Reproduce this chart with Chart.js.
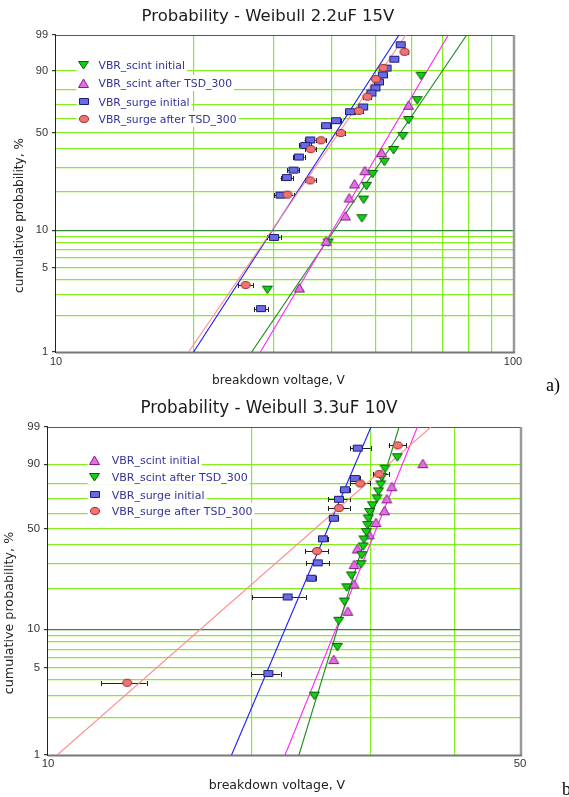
<!DOCTYPE html>
<html>
<head>
<meta charset="utf-8">
<script src="https://cdn.jsdelivr.net/npm/chart.js@4.4.1/dist/chart.umd.min.js"></script>
<style>
  html, body { margin: 0; padding: 0; background: #fff; }
  #wrapA { position: absolute; left: 0; top: 0; }
  #wrapB { position: absolute; left: 0; top: 395px; }
  canvas { display: block; }
</style>
</head>
<body>
<div id="wrapA"><canvas id="chartA" width="569" height="395"></canvas></div>
<div id="wrapB"><canvas id="chartB" width="569" height="402"></canvas></div>
<script>
// weibull probability axis: percentages on the ln(-ln(1-F)) scale
const yGridPct = [1, 2, 3, 4, 5, 6, 7, 8, 9, 10, 20, 30, 40, 50, 60, 70, 80, 90, 99];
const yLabelPct = [1, 5, 10, 50, 90, 99];
const fitPct = [1, 99];
const xGridA = [10, 20, 30, 40, 50, 60, 70, 80, 90, 100];
const xGridB = [10, 20, 30, 40, 50];

// a) 2.2uF 15V
const a_scintInitV = [62.9, 61.7, 59.1, 57.4, 54.8, 52.3, 49.3, 47.8, 47.1, 46.7, 39.4, 29.0];
const a_scintInitP = [87.7, 73.0, 59.0, 48.0, 39.3, 32.8, 27.0, 22.1, 17.4, 12.5, 8.0, 3.3];
const a_scintTsdV = [59.1, 51.6, 47.4, 45.0, 43.8, 43.0, 39.0, 34.1];
const a_scintTsdP = [69.4, 37.7, 28.4, 22.8, 17.9, 13.0, 8.2, 3.4];
const a_surgeInitV = [56.8, 55.0, 52.9, 51.9, 50.9, 50.0, 49.0, 47.0, 44.0, 41.0, 39.0, 36.0, 35.1, 34.0, 33.1, 32.0, 31.0, 30.0, 28.1];
const a_surgeInitP = [97.8, 94.4, 91.2, 88.1, 84.4, 80.9, 77.7, 68.2, 64.9, 58.5, 55.0, 45.4, 42.0, 35.3, 28.7, 25.4, 18.8, 8.8, 2.3];
const a_surgeInitErr = [1, 1, 1, 1, 1, 1, 1, 1, 1, 1, 1, 1, 1, 1, 1, 1, 1, 1, 1];
const a_surgeTsdV = [57.9, 52.0, 50.1, 48.0, 46.0, 42.0, 38.0, 36.1, 36.0, 32.1, 26.0];
const a_surgeTsdP = [96.4, 91.3, 86.0, 75.3, 65.4, 50.0, 45.2, 39.8, 24.2, 19.0, 3.6];
const a_surgeTsdErr = [1, 1, 1, 1, 1, 1, 1, 1, 1, 1, 1];
// fitted lines: voltage at 1% and at 99%
const a_fitScintInit = [26.8, 79.2];
const a_fitScintTsd = [28.0, 72.2];
const a_fitSurgeInit = [20.0, 56.3];
const a_fitSurgeTsd = [19.5, 58.3];

// b) 3.3uF 10V
const b_scintInitV = [35.9, 32.3, 31.75, 31.5, 30.6, 29.9, 28.7, 28.4, 28.4, 27.8, 26.5];
const b_scintInitP = [90.2, 77.9, 70.0, 61.8, 53.8, 45.9, 37.6, 29.7, 21.7, 13.7, 5.8];
const b_scintTsdV = [32.9, 31.55, 31.2, 31.1, 30.86, 30.7, 30.23, 29.93, 29.8, 29.75, 29.6, 29.36, 29.28, 29.16, 29.08, 28.14, 27.69, 27.47, 26.95, 26.82, 24.8];
const b_scintTsdP = [92.7, 88.0, 83.6, 79.3, 74.9, 70.3, 65.6, 61.0, 56.6, 52.2, 47.6, 43.1, 39.0, 34.3, 29.9, 25.0, 20.6, 16.2, 11.6, 7.3, 3.0];
const b_surgeInitV = [28.75, 28.47, 27.53, 26.97, 26.5, 25.54, 25.09, 24.55, 22.64, 21.2];
const b_surgeInitP = [95.5, 82.8, 76.0, 69.7, 56.7, 43.5, 30.5, 23.9, 17.5, 4.5];
const b_surgeInitErrLo = [0.75, 0.5, 0.5, 1.0, 0.4, 0.4, 1.0, 0.4, 2.6, 1.2];
const b_surgeInitErrHi = [1.3, 0.5, 0.5, 1.0, 0.4, 0.4, 1.0, 0.4, 1.45, 0.9];
const b_surgeTsdV = [32.95, 30.94, 29.0, 26.97, 25.02, 13.1];
const b_surgeTsdP = [96.2, 85.2, 79.9, 63.7, 36.5, 3.8];
const b_surgeTsdErrLo = [1.0, 0.6, 1.0, 1.0, 1.0, 1.1];
const b_surgeTsdErrHi = [1.0, 1.0, 1.0, 1.0, 1.0, 0.9];
const b_fitScintInit = [22.44, 35.24];
const b_fitScintTsd = [23.53, 33.1];
const b_fitSurgeInit = [18.7, 30.08];
const b_fitSurgeTsd = [10.32, 36.9];

const W = p => Math.log(-Math.log(1 - p / 100));
const toPct = w => 100 * (1 - Math.exp(-Math.exp(w)));

const GRID = '#86ee1e';
const GRID10 = '#2f8a3a';
const LEGEND_TXT = '#333399';

function marker(kind, w, h, fill, stroke) {
  const c = document.createElement('canvas');
  c.width = w + 2; c.height = h + 2;
  const g = c.getContext('2d');
  g.fillStyle = fill; g.strokeStyle = stroke; g.lineWidth = 1;
  g.beginPath();
  if (kind === 'rect') g.rect(1.5, 1.5, w - 1, h - 1);
  else if (kind === 'ellipse') g.ellipse((w + 2) / 2, (h + 2) / 2, w / 2 - 0.5, h / 2 - 0.5, 0, 0, Math.PI * 2);
  else if (kind === 'up') { g.moveTo((w + 2) / 2, 1); g.lineTo(w + 0.5, h + 0.5); g.lineTo(1.5, h + 0.5); g.closePath(); }
  else { g.moveTo(1.5, 1.5); g.lineTo(w + 0.5, 1.5); g.lineTo((w + 2) / 2, h + 1); g.closePath(); }
  g.fill(); g.stroke();
  return c;
}

const mkGreen = marker('down', 11, 8, '#10d010', '#0b5e0b');
const mkMagenta = marker('up', 11, 9, '#e070e0', '#8a1a8a');
const mkBlue = marker('rect', 10, 7, '#6a6ae4', '#1c1c7a');
const mkRed = marker('ellipse', 10, 8, '#f07474', '#9a2e2e');

function build(id, o) {
  const datasets = [];
  o.series.forEach(s => {
    datasets.push({
      label: s.label,
      data: s.v.map((v, i) => ({ x: v, y: W(s.p[i]) })),
      pointStyle: s.marker, pointRadius: 5, showLine: false, order: 0,
      errLo: s.errLo, errHi: s.errHi
    });
  });
  o.fits.forEach(f => {
    datasets.push({
      data: f.v.map((v, i) => ({ x: v, y: W(fitPct[i]) })),
      showLine: true, borderColor: f.color, borderWidth: 1.1, pointRadius: 0, order: 1
    });
  });

  const deco = {
    id: 'deco',
    beforeDatasetsDraw(chart) {
      const c = chart.ctx, a = chart.chartArea, xs = chart.scales.x, ys = chart.scales.y;
      c.save();
      // frame
      const seg = (x1, y1, x2, y2, col, lw) => {
        c.strokeStyle = col; c.lineWidth = lw;
        c.beginPath(); c.moveTo(x1, y1); c.lineTo(x2, y2); c.stroke();
      };
      seg(a.left, a.top + 0.5, a.right, a.top + 0.5, '#555', 1);
      seg(a.right + 1, a.top, a.right + 1, a.bottom + 1, '#9a9a9a', 2.5);
      seg(a.left, a.bottom + 0.5, a.right + 2, a.bottom + 0.5, '#777', 2);
      seg(a.left - 0.5, a.top, a.left - 0.5, a.bottom + 1, '#222', 1);

      // legend
      c.font = o.legend.font;
      c.textAlign = 'left'; c.textBaseline = 'alphabetic';
      o.legend.items.forEach((it, i) => {
        const y = o.legend.rows[i];
        const tw = c.measureText(it.label).width;
        c.fillStyle = '#fff';
        c.fillRect(o.legend.mx - 7, y - 8, o.legend.tx + tw + 2 - (o.legend.mx - 7), 16);
        c.drawImage(it.marker, Math.round(o.legend.mx - it.marker.width / 2), Math.round(y - it.marker.height / 2));
        c.fillStyle = LEGEND_TXT;
        c.fillText(it.label, o.legend.tx, y + 4);
      });

      // horizontal error bars
      c.strokeStyle = '#222'; c.lineWidth = 1;
      chart.data.datasets.forEach(d => {
        if (!d.errLo) return;
        d.data.forEach((pt, i) => {
          const x1 = xs.getPixelForValue(pt.x - d.errLo[i]);
          const x2 = xs.getPixelForValue(pt.x + d.errHi[i]);
          const y = Math.round(ys.getPixelForValue(pt.y)) + 0.5;
          c.beginPath();
          c.moveTo(x1, y); c.lineTo(x2, y);
          c.moveTo(Math.round(x1) + 0.5, y - 2.5); c.lineTo(Math.round(x1) + 0.5, y + 2.5);
          c.moveTo(Math.round(x2) + 0.5, y - 2.5); c.lineTo(Math.round(x2) + 0.5, y + 2.5);
          c.stroke();
        });
      });
      c.restore();
    },
    afterDraw(chart) {
      const c = chart.ctx;
      c.save();
      o.texts.forEach(t => {
        c.font = t.font;
        c.fillStyle = t.color || '#222';
        c.textBaseline = 'alphabetic';
        c.textAlign = t.align || 'center';
        if (t.rot) {
          c.save(); c.translate(t.x, t.y); c.rotate(-Math.PI / 2);
          c.fillText(t.t, 0, 0); c.restore();
        } else {
          c.fillText(t.t, t.x, t.y);
        }
      });
      c.restore();
    }
  };

  const xMax = o.xGrid[o.xGrid.length - 1];
  return new Chart(document.getElementById(id), {
    type: 'scatter',
    data: { datasets },
    options: {
      responsive: false,
      animation: false,
      events: [],
      layout: { padding: { left: 0, right: o.padRight, top: o.padTop, bottom: 0 } },
      plugins: { legend: { display: false }, tooltip: { enabled: false }, title: { display: false } },
      scales: {
        x: {
          type: 'logarithmic', min: 10, max: xMax,
          border: { display: false },
          afterBuildTicks: s => { s.ticks = o.xGrid.map(v => ({ value: v })); },
          grid: {
            color: ctx => (ctx.tick.value === 10 || ctx.tick.value === xMax) ? 'rgba(0,0,0,0)' : GRID,
            lineWidth: 1.2, drawTicks: false
          },
          ticks: {
            autoSkip: false, maxRotation: 0, padding: o.xPad, color: '#333',
            font: { family: 'Liberation Sans', size: o.tickSize },
            callback: v => (v === 10 || v === xMax) ? String(v) : ''
          },
          afterFit: s => { s.height = o.xH; }
        },
        y: {
          type: 'linear', min: W(1), max: W(99),
          border: { display: false },
          afterBuildTicks: s => { s.ticks = yGridPct.map(p => ({ value: W(p) })); },
          grid: {
            color: ctx => {
              const p = Math.round(toPct(ctx.tick.value));
              if (p === 1 || p === 99) return 'rgba(0,0,0,0)';
              return p === 10 ? GRID10 : GRID;
            },
            tickColor: ctx => yLabelPct.includes(Math.round(toPct(ctx.tick.value))) ? '#333' : 'rgba(0,0,0,0)',
            lineWidth: 1.2, drawTicks: true, tickLength: 4
          },
          ticks: {
            autoSkip: false, padding: 4, color: '#333',
            font: { family: 'Liberation Sans', size: o.tickSize },
            callback: v => {
              const p = Math.round(toPct(v));
              return yLabelPct.includes(p) ? String(p) : '';
            }
          },
          afterFit: s => { s.width = o.yW; }
        }
      }
    },
    plugins: [deco]
  });
}

build('chartA', {
  xGrid: xGridA, padTop: 35, padRight: 56, yW: 56, xH: 43, xPad: 3, tickSize: 11,
  series: [
    { label: 'VBR_surge after TSD_300', v: a_surgeTsdV, p: a_surgeTsdP, marker: mkRed, errLo: a_surgeTsdErr, errHi: a_surgeTsdErr },
    { label: 'VBR_surge initial', v: a_surgeInitV, p: a_surgeInitP, marker: mkBlue, errLo: a_surgeInitErr, errHi: a_surgeInitErr },
    { label: 'VBR_scint after TSD_300', v: a_scintTsdV, p: a_scintTsdP, marker: mkMagenta },
    { label: 'VBR_scint initial', v: a_scintInitV, p: a_scintInitP, marker: mkGreen }
  ],
  fits: [
    { v: a_fitSurgeTsd, color: '#ff8c8c' },
    { v: a_fitSurgeInit, color: '#1a1aff' },
    { v: a_fitScintTsd, color: '#ff22ff' },
    { v: a_fitScintInit, color: '#1a8a1a' }
  ],
  legend: {
    font: '10.8px "DejaVu Sans"', mx: 83.5, tx: 98.5, rows: [65, 83, 101.5, 119],
    items: [
      { label: 'VBR_scint initial', marker: mkGreen },
      { label: 'VBR_scint after TSD_300', marker: mkMagenta },
      { label: 'VBR_surge initial', marker: mkBlue },
      { label: 'VBR_surge after TSD_300', marker: mkRed }
    ]
  },
  texts: [
    { t: 'Probability - Weibull 2.2uF 15V', x: 268, y: 20.7, font: '16.5px "DejaVu Sans"', color: '#1a1a1a' },
    { t: 'breakdown voltage, V', x: 278.5, y: 384.3, font: '12.2px "DejaVu Sans"' },
    { t: 'cumulative probability, %', x: 22.5, y: 215.5, rot: true, font: '12.1px "DejaVu Sans"' },
    { t: 'a)', x: 546, y: 391, font: '18px "Liberation Serif"', color: '#000', align: 'left' }
  ]
});

build('chartB', {
  xGrid: xGridB, padTop: 32, padRight: 49, yW: 48, xH: 42, xPad: 2, tickSize: 11.4,
  series: [
    { label: 'VBR_surge after TSD_300', v: b_surgeTsdV, p: b_surgeTsdP, marker: mkRed, errLo: b_surgeTsdErrLo, errHi: b_surgeTsdErrHi },
    { label: 'VBR_surge initial', v: b_surgeInitV, p: b_surgeInitP, marker: mkBlue, errLo: b_surgeInitErrLo, errHi: b_surgeInitErrHi },
    { label: 'VBR_scint after TSD_300', v: b_scintTsdV, p: b_scintTsdP, marker: mkGreen },
    { label: 'VBR_scint initial', v: b_scintInitV, p: b_scintInitP, marker: mkMagenta }
  ],
  fits: [
    { v: b_fitSurgeTsd, color: '#ff8c8c' },
    { v: b_fitSurgeInit, color: '#1a1aff' },
    { v: b_fitScintTsd, color: '#1a8a1a' },
    { v: b_fitScintInit, color: '#ff22ff' }
  ],
  legend: {
    font: '11px "DejaVu Sans"', mx: 94.7, tx: 111.7, rows: [65.3, 81.5, 99.7, 115.7],
    items: [
      { label: 'VBR_scint initial', marker: mkMagenta },
      { label: 'VBR_scint after TSD_300', marker: mkGreen },
      { label: 'VBR_surge initial', marker: mkBlue },
      { label: 'VBR_surge after TSD_300', marker: mkRed }
    ]
  },
  texts: [
    { t: 'Probability - Weibull 3.3uF 10V', x: 269, y: 18.3, font: '16.8px "DejaVu Sans"', color: '#1a1a1a' },
    { t: 'breakdown voltage, V', x: 277, y: 394.3, font: '12.5px "DejaVu Sans"' },
    { t: 'cumulative probability, %', x: 12.8, y: 218, rot: true, font: '12.7px "DejaVu Sans"' },
    { t: 'b)', x: 562, y: 400, font: '18px "Liberation Serif"', color: '#000', align: 'left' }
  ]
});
</script>
</body>
</html>
